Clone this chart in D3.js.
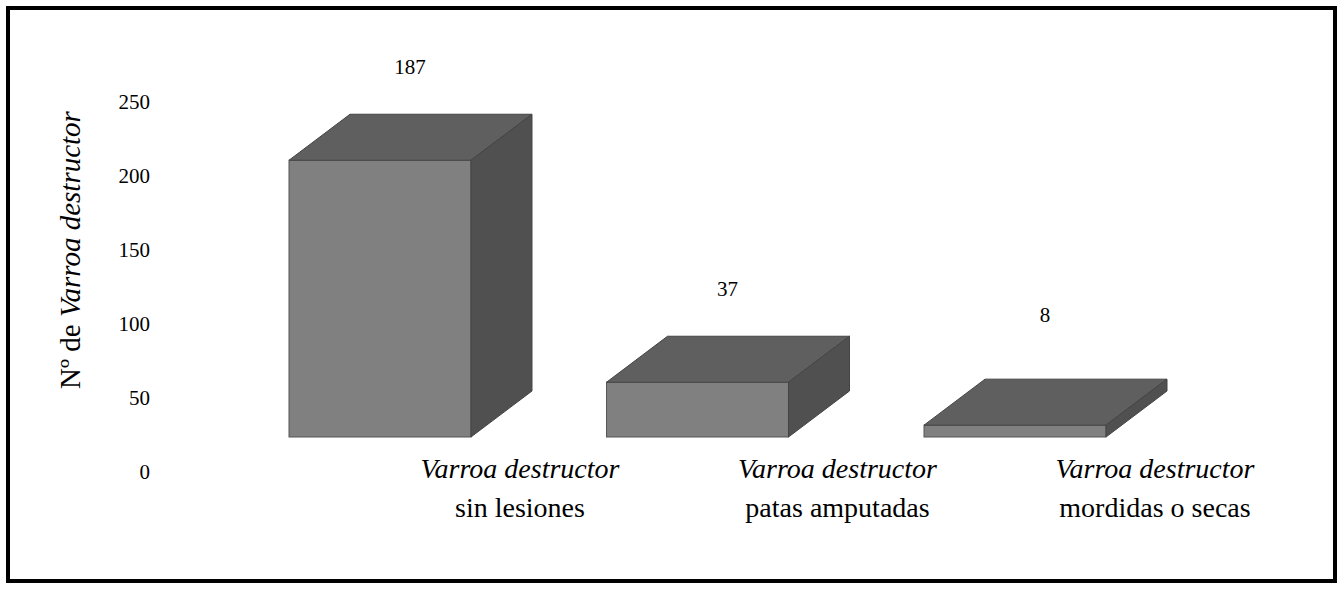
<!DOCTYPE html>
<html><head><meta charset="utf-8">
<script src="https://cdn.jsdelivr.net/npm/d3@7"></script>
<style>body{margin:0;background:#fff}text{font-family:"Liberation Serif","Times New Roman",serif}</style>
</head><body><svg id="c" width="1344" height="594"></svg>
<script>
const categories = ['sin lesiones', 'patas amputadas', 'mordidas o secas'];
const values = [187, 37, 8];
const ticks = [0, 50, 100, 150, 200, 250];

const svg = d3.select('#c');
svg.append('rect').attr('x', 8).attr('y', 8).attr('width', 1327).attr('height', 573)
  .attr('fill', 'none').attr('stroke', '#000').attr('stroke-width', 4);

const base = 437, dx = 61, dy = -46;
const y = d3.scaleLinear().domain([0, 250]).range([base, base - 370]);
const x = d3.scaleBand().domain(categories).range([289, 1106]).paddingInner(0.4268).paddingOuter(0);

const g = svg.append('g');
categories.forEach((c, i) => {
  const x0 = x(c), w = x.bandwidth(), top = y(values[i]);
  g.append('rect').attr('x', x0).attr('y', top).attr('width', w).attr('height', base - top)
    .attr('fill', '#808080').attr('stroke', '#555').attr('stroke-width', 1);
  g.append('path').attr('d', `M${x0},${top}L${x0+dx},${top+dy}L${x0+w+dx},${top+dy}L${x0+w},${top}Z`)
    .attr('fill', '#5f5f5f').attr('stroke', '#444').attr('stroke-width', 1);
  g.append('path').attr('d', `M${x0+w},${top}L${x0+w+dx},${top+dy}L${x0+w+dx},${base+dy}L${x0+w},${base}Z`)
    .attr('fill', '#505050').attr('stroke', '#444').attr('stroke-width', 1);
  g.append('text').attr('x', x0 + w / 2 + 30).attr('y', Math.min(top + dy - 40, 322))
    .attr('text-anchor', 'middle').attr('font-size', 21).text(values[i]);
  const t = g.append('text').attr('x', x0 + w / 2 + 140).attr('text-anchor', 'middle').attr('font-size', 28);
  t.append('tspan').attr('x', x0 + w / 2 + 140).attr('y', 478).attr('font-style', 'italic').text('Varroa destructor');
  t.append('tspan').attr('x', x0 + w / 2 + 140).attr('y', 517).text(c);
});

const yt = d3.scaleLinear().domain([0, 250]).range([472, 472 - 370]);
const ax = svg.append('g').attr('transform', 'translate(150,0)')
  .call(d3.axisLeft(yt).tickValues(ticks).tickSize(0).tickPadding(0));
ax.select('.domain').remove();
ax.selectAll('text').attr('font-size', 21).attr('font-family', '"Liberation Serif",serif').attr('fill', '#000');

const tt = svg.append('text').attr('transform', 'translate(80,250) rotate(-90)')
  .attr('text-anchor', 'middle').attr('font-size', 29);
tt.append('tspan').text('Nº de ');
tt.append('tspan').attr('font-style', 'italic').text('Varroa destructor');
</script></body></html>
